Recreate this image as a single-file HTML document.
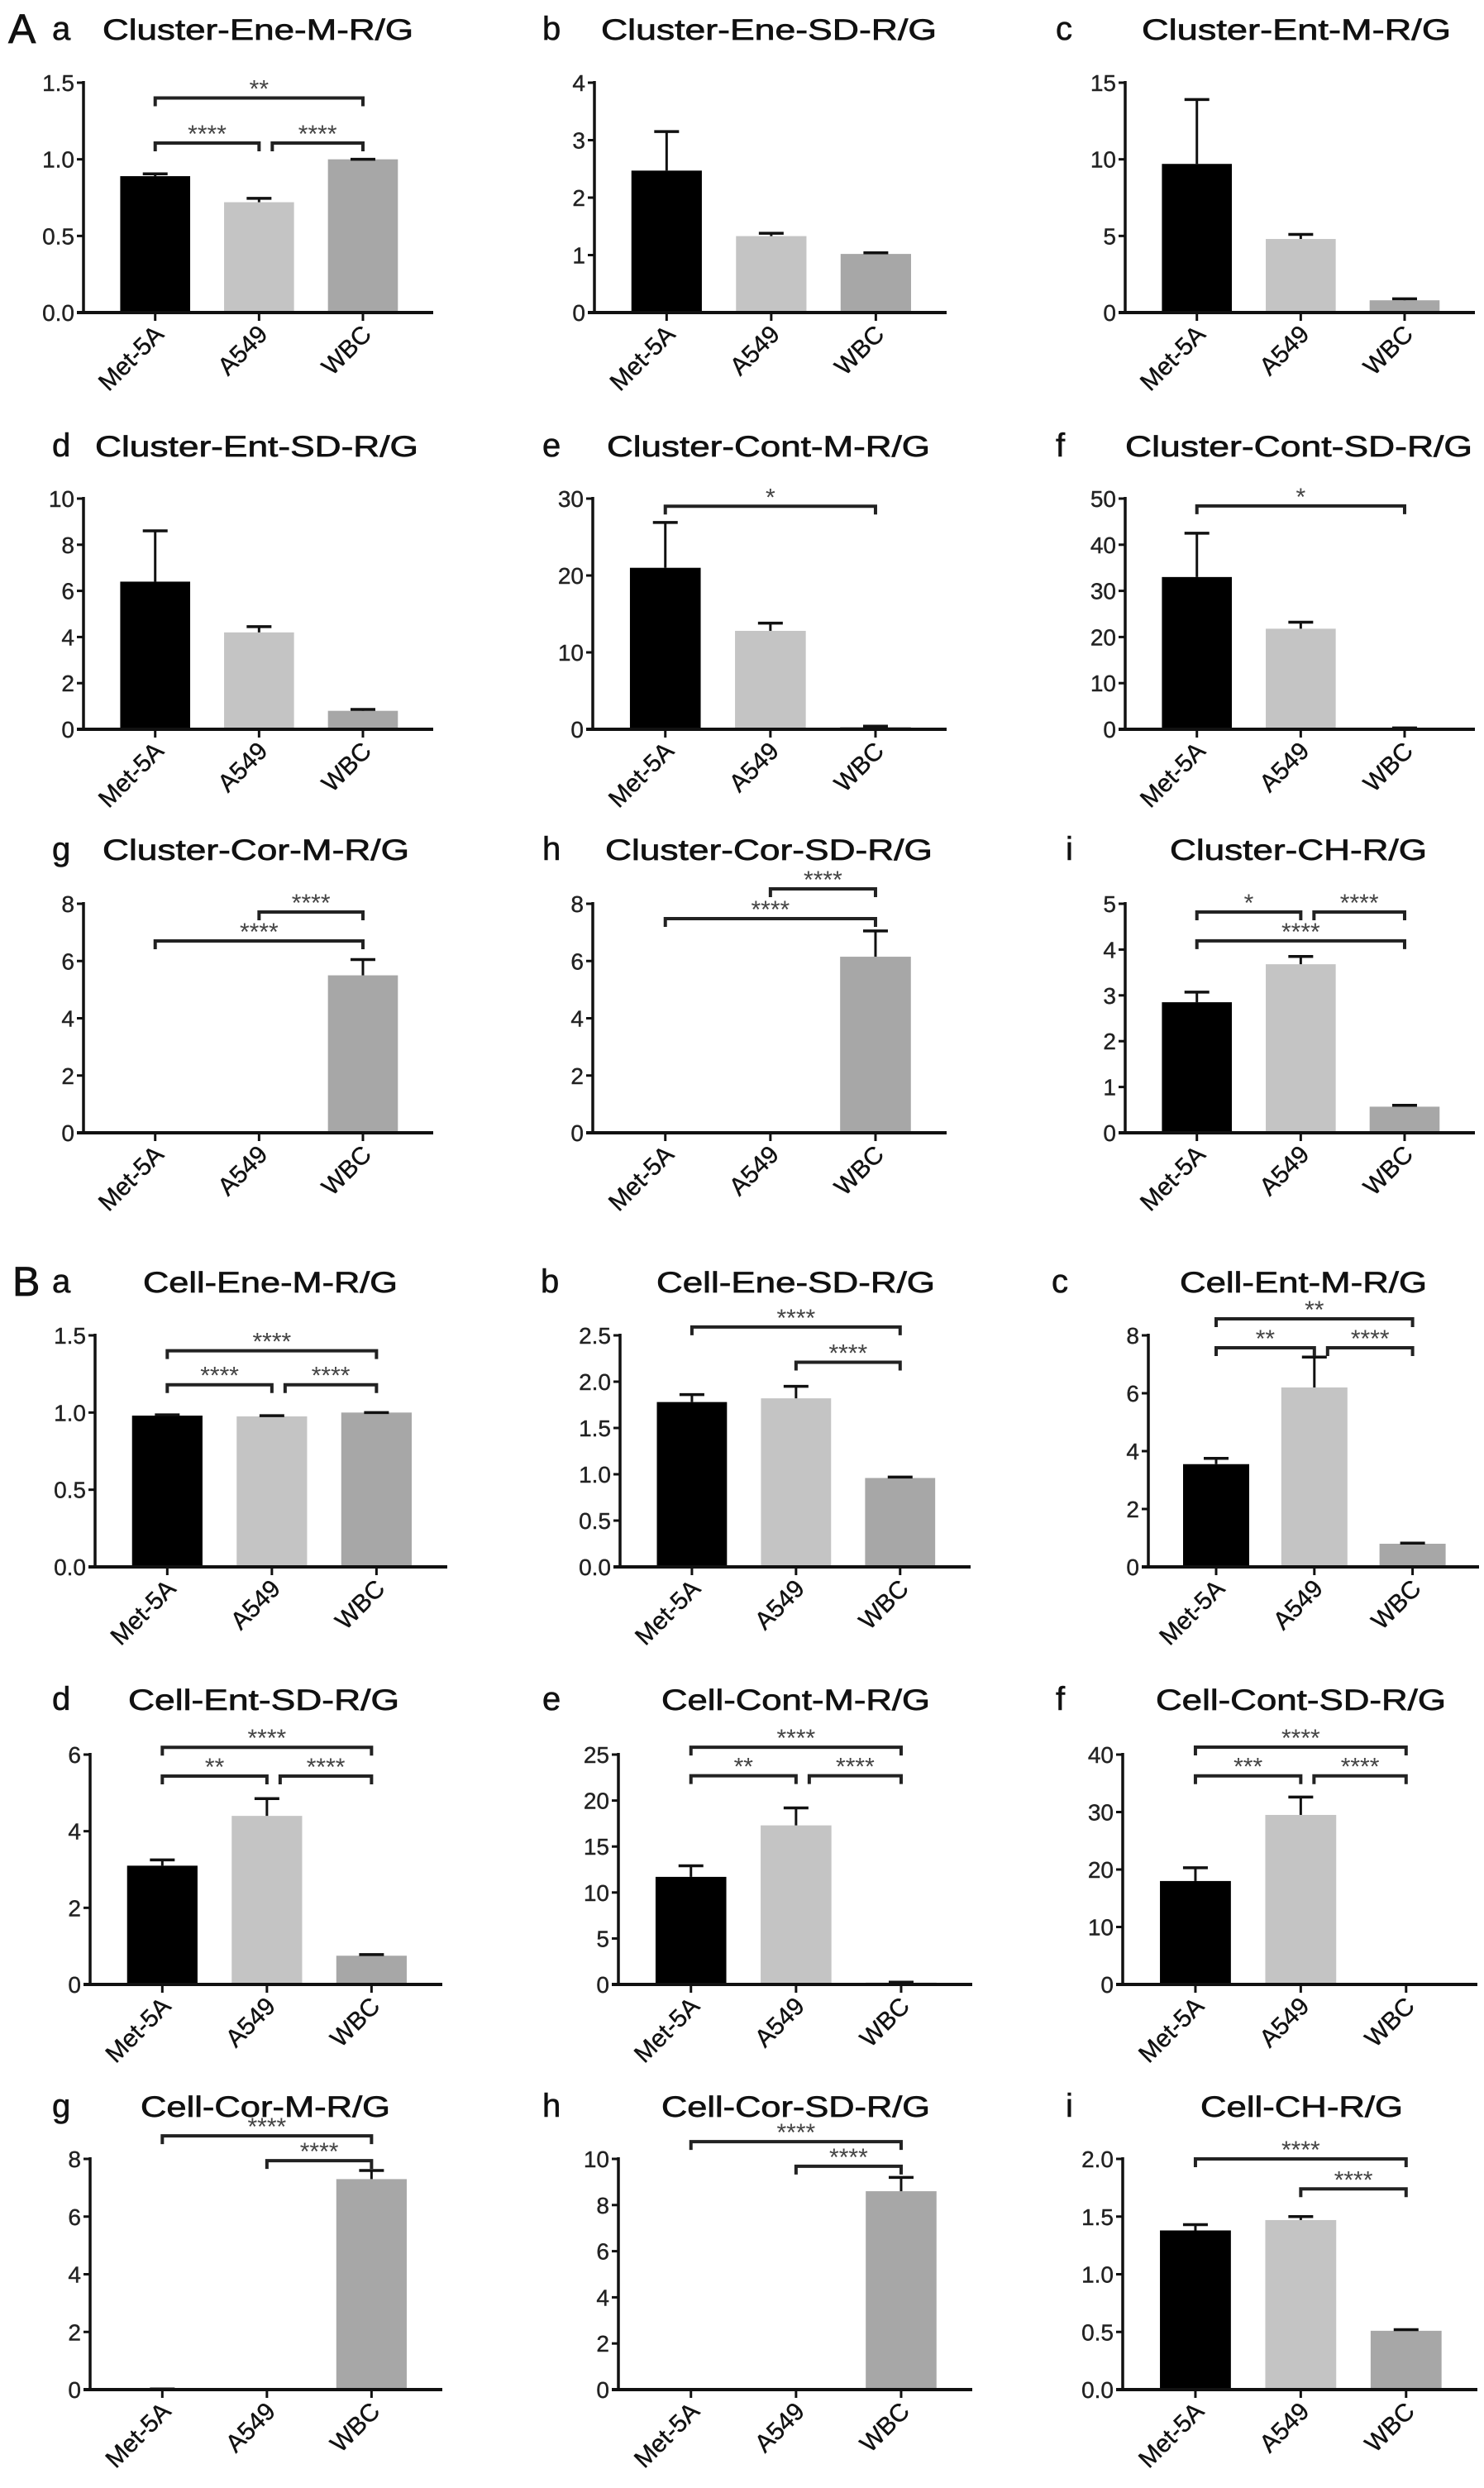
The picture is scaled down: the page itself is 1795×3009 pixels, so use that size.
<!DOCTYPE html>
<html><head><meta charset="utf-8"><style>
html,body{margin:0;padding:0;background:#fff;}
svg{display:block;font-family:"Liberation Sans",Arial,sans-serif;}
</style></head><body>
<svg id="fig" width="1795" height="3009" viewBox="0 0 1795 3009" xmlns="http://www.w3.org/2000/svg"></svg>
<script>
// ---- data ----
const categories = ['Met-5A', 'A549', 'WBC'];
const panelTitles = ['Cluster-Ene-M-R/G','Cluster-Ene-SD-R/G','Cluster-Ent-M-R/G',
  'Cluster-Ent-SD-R/G','Cluster-Cont-M-R/G','Cluster-Cont-SD-R/G',
  'Cluster-Cor-M-R/G','Cluster-Cor-SD-R/G','Cluster-CH-R/G',
  'Cell-Ene-M-R/G','Cell-Ene-SD-R/G','Cell-Ent-M-R/G',
  'Cell-Ent-SD-R/G','Cell-Cont-M-R/G','Cell-Cont-SD-R/G',
  'Cell-Cor-M-R/G','Cell-Cor-SD-R/G','Cell-CH-R/G'];
const panelLetters = ['a','b','c','d','e','f','g','h','i','a','b','c','d','e','f','g','h','i'];
const meanValues = [
  [0.89,0.72,1.0],[2.47,1.33,1.02],[9.7,4.8,0.8],
  [6.4,4.2,0.8],[21,12.8,0.3],[33,21.8,0.2],
  [0,0,5.5],[0,0,6.15],[2.85,3.68,0.57],
  [0.98,0.975,1.0],[1.78,1.82,0.96],[3.55,6.2,0.8],
  [3.1,4.4,0.75],[11.7,17.3,0.2],[18,29.5,0],
  [0.02,0,7.3],[0,0,8.6],[1.38,1.47,0.51]];
const errorTops = [
  [0.905,0.745,1.0],[3.15,1.38,1.04],[13.9,5.1,0.9],
  [8.6,4.45,0.86],[26.9,13.8,0.4],[42.5,23.2,0.3],
  [0,0,6.05],[0,0,7.05],[3.07,3.85,0.6],
  [0.985,0.98,1.0],[1.86,1.95,0.97],[3.75,7.25,0.82],
  [3.25,4.85,0.78],[12.9,19.2,0.25],[20.3,32.6,0],
  [0.02,0,7.6],[0,0,9.2],[1.43,1.5,0.52]];
const axisMax = [1.5,4,15, 10,30,50, 8,8,5, 1.5,2.5,8, 6,25,40, 8,10,2];
const tickStep = [0.5,1,5, 2,10,10, 2,2,1, 0.5,0.5,2, 2,5,10, 2,2,0.5];
const tickDecimals = [1,0,0, 0,0,0, 0,0,0, 1,1,0, 0,0,0, 0,0,1];
// brackets: [fromIndex, toIndex, yValue, label]
const brackets = [
  [[0,2,1.40,'**'],[0,1,1.106,'****'],[1,2,1.106,'****']], [], [],
  [], [[0,2,29.0,'*']], [[0,2,48.4,'*']],
  [[1,2,7.71,'****'],[0,2,6.70,'****']], [[1,2,8.52,'****'],[0,2,7.48,'****']], [[0,1,4.82,'*'],[1,2,4.82,'****'],[0,2,4.19,'****']],
  [[0,2,1.40,'****'],[0,1,1.18,'****'],[1,2,1.18,'****']], [[0,2,2.59,'****'],[1,2,2.21,'****']], [[0,2,8.57,'**'],[0,1,7.57,'**'],[1,2,7.57,'****']],
  [[0,2,6.19,'****'],[0,1,5.44,'**'],[1,2,5.44,'****']], [[0,2,25.8,'****'],[0,1,22.7,'**'],[1,2,22.7,'****']], [[0,2,41.3,'****'],[0,1,36.3,'***'],[1,2,36.3,'****']],
  [[0,2,8.8,'****'],[1,2,7.94,'****']], [[0,2,10.75,'****'],[1,2,9.68,'****']], [[0,2,2.0,'****'],[1,2,1.74,'****']]];

// ---- layout (not data) ----
const rowTop = [100,603,1093,1615,2122,2611];
const rowZero = [378,882,1370,1895,2400,2890];
const colAxis = [[[101,524],[719,1145],[1361,1784]],[[101,524],[717,1145],[1361,1784]],[[101,524],[717,1145],[1361,1784]],
  [[115,541],[750,1174],[1389,1789]],[[109,535],[748,1176],[1358,1787]],[[109,535],[748,1176],[1358,1787]]];
const titleBase = [48,552,1040,1563,2068,2560];
const titleSpan = [[[124,500],[727,1133],[1381,1755]],[[115,506],[734,1125],[1361,1781]],[[124,495],[732,1128],[1415,1726]],
  [[173,481],[794,1131],[1427,1726]],[[155,483],[800,1125],[1398,1749]],[[170,472],[800,1125],[1452,1697]]];
const letterX = [[63,656,1277],[63,656,1277],[63,656,1289],[63,654,1272],[63,656,1277],[63,656,1289]];
const barColors = ['#000000','#c4c4c4','#a7a7a7'];

const NS='http://www.w3.org/2000/svg';
const svg=document.getElementById('fig');
function mk(tag, attrs, parent){const e=document.createElementNS(NS,tag);for(const k in attrs)e.setAttribute(k,attrs[k]);(parent||svg).appendChild(e);return e;}

// section letters
let t=mk('text',{x:10,y:titleBase[0]+4,'font-size':50,fill:'#111',stroke:'#111','stroke-width':0.8});t.textContent='A';


t=mk('text',{x:15,y:titleBase[3]+4,'font-size':50,fill:'#111',stroke:'#111','stroke-width':0.8});t.textContent='B';



for(let p=0;p<18;p++){
  const r=Math.floor(p/3), c=p%3;
  const g=mk('g',{});
  
  
  const x0=colAxis[r][c][0], x1=colAxis[r][c][1], yT=rowTop[r], yZ=rowZero[r];
  const W=x1-x0;
  const yS=v=>yZ-v/axisMax[p]*(yZ-yT);
  const xC=k=>x0+W*(0.205+0.297*k);
  const bw=W*0.2;
  let e=mk('text',{x:letterX[r][c],y:titleBase[r],'font-size':40,fill:'#111',stroke:'#111','stroke-width':0.6},g);e.textContent=panelLetters[p];
  
  
  const ts=titleSpan[r][c];
  e=mk('text',{x:ts[0],y:titleBase[r],'font-size':35,fill:'#111',stroke:'#111','stroke-width':0.7,textLength:ts[1]-ts[0],lengthAdjust:'spacingAndGlyphs'},g);e.textContent=panelTitles[p];
  
  
  for(let k=0;k<3;k++){
    const m=meanValues[p][k], top=errorTops[p][k];
    const h=Math.max(yZ-yS(m),0);
    e=mk('rect',{x:xC(k)-bw/2,y:yS(m),width:bw,height:h,fill:barColors[k]},g);
    
    
    if(top>m){
      e=mk('line',{x1:xC(k),x2:xC(k),y1:yS(m),y2:yS(top),stroke:'#111','stroke-width':3},g);
      
      
    }
    if(top>0 || m>0){
      e=mk('line',{x1:xC(k)-15,x2:xC(k)+15,y1:yS(top),y2:yS(top),stroke:'#111','stroke-width':3.5},g);
      
      
    }
  }
  e=mk('line',{x1:x0,x2:x0,y1:yT-2,y2:yZ+2,stroke:'#111','stroke-width':3.5},g);
  
  
  e=mk('line',{x1:x0-8,x2:x1,y1:yZ,y2:yZ,stroke:'#111','stroke-width':4},g);
  
  
  const nT=Math.round(axisMax[p]/tickStep[p]);
  for(let i=0;i<=nT;i++){
    const v=i*tickStep[p];
    e=mk('line',{x1:x0-8,x2:x0,y1:yS(v),y2:yS(v),stroke:'#111','stroke-width':3},g);
    
    
    e=mk('text',{x:x0-11,y:yS(v)+10,'font-size':28,'text-anchor':'end',fill:'#222',stroke:'#222','stroke-width':0.4},g);
    e.textContent=v.toFixed(tickDecimals[p]);
    
    
  }
  for(let k=0;k<3;k++){
    e=mk('line',{x1:xC(k),x2:xC(k),y1:yZ,y2:yZ+10,stroke:'#111','stroke-width':3},g);
    
    
    const lx=xC(k)+12, ly=yZ+28;
    e=mk('text',{x:lx,y:ly,'font-size':30,'text-anchor':'end',fill:'#111',stroke:'#111','stroke-width':0.4,transform:'rotate(-45 '+lx+' '+ly+')'},g);
    e.textContent=categories[k];
    
    
  }
  const bl=brackets[p];
  for(const b of bl){
    const shared=bl.some(o=>o!==b && o[1]===b[0] && o[2]===b[2]);
    const xa=xC(b[0])+(shared?16:0), xb=xC(b[1]);
    const yb=yS(b[2]);
    e=mk('path',{d:'M'+xa+' '+(yb+10)+' V'+yb+' H'+xb+' V'+(yb+10),fill:'none',stroke:'#222','stroke-width':4},g);
    
    
    e=mk('text',{x:(xa+xb)/2,y:yb-1,'font-size':30,'text-anchor':'middle',fill:'#444'},g);
    e.textContent=b[3];
    
    
  }
}
</script>
</body></html>
